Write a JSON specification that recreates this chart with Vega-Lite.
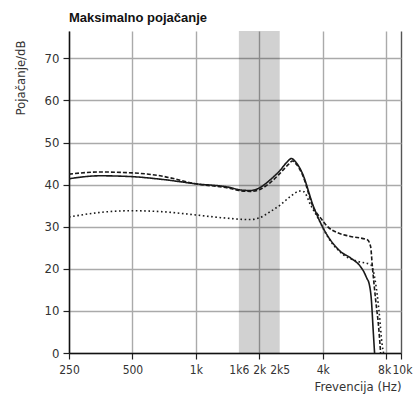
{
  "$schema": "https://vega.github.io/schema/vega-lite/v6.json",
  "width": 332,
  "height": 322,
  "autosize": "none",
  "padding": {"left": 69, "top": 31, "right": 12, "bottom": 49},
  "background": "white",
  "title": {
    "text": "Maksimalno pojačanje",
    "anchor": "start",
    "frame": "group",
    "font": "Liberation Sans",
    "fontWeight": "bold",
    "fontSize": 13,
    "color": "#111",
    "offset": 6
  },
  "config": {
    "view": {"stroke": null},
    "axis": {
      "labelFont": "DejaVu Sans Condensed, Liberation Sans Narrow, Roboto",
      "titleFont": "DejaVu Sans Condensed, Liberation Sans Narrow, Roboto",
      "labelFontSize": 13,
      "titleFontSize": 13,
      "titleFontWeight": "normal",
      "labelColor": "#333",
      "titleColor": "#333"
    }
  },
  "layer": [
    {
      "data": {"values": [{"lo": 1600, "hi": 2500}]},
      "mark": {"type": "rect", "color": "#000", "opacity": 0.18},
      "encoding": {
        "x": {"field": "lo", "type": "quantitative", "scale": {"type": "log", "domain": [250, 9410]}},
        "x2": {"field": "hi"},
        "y": {"datum": 0, "type": "quantitative", "scale": {"domain": [0, 76.5]}},
        "y2": {"datum": 76.5}
      }
    },
    {
      "data": {"values": [
        {"s": "A", "f": 250, "g": 41.4},
        {"s": "A", "f": 351, "g": 42.1},
        {"s": "A", "f": 498, "g": 41.9},
        {"s": "A", "f": 677, "g": 41.3},
        {"s": "A", "f": 1000, "g": 40.2},
        {"s": "A", "f": 1457, "g": 39.3},
        {"s": "A", "f": 1600, "g": 38.8},
        {"s": "A", "f": 1814, "g": 38.6},
        {"s": "A", "f": 2000, "g": 39.2},
        {"s": "A", "f": 2258, "g": 41.2},
        {"s": "A", "f": 2520, "g": 43.5},
        {"s": "A", "f": 2700, "g": 45.3},
        {"s": "A", "f": 2842, "g": 46.2},
        {"s": "A", "f": 2950, "g": 45.6},
        {"s": "A", "f": 3196, "g": 42.8},
        {"s": "A", "f": 3617, "g": 34.8},
        {"s": "A", "f": 4000, "g": 29.9},
        {"s": "A", "f": 4860, "g": 24.1},
        {"s": "A", "f": 5420, "g": 22.6},
        {"s": "A", "f": 6050, "g": 20.5},
        {"s": "A", "f": 6255, "g": 19.4},
        {"s": "A", "f": 6500, "g": 17.6},
        {"s": "A", "f": 6625, "g": 16.7},
        {"s": "A", "f": 6805, "g": 12.7},
        {"s": "A", "f": 6955, "g": 4.8},
        {"s": "A", "f": 7050, "g": 0},
        {"s": "B", "f": 250, "g": 42.5},
        {"s": "B", "f": 351, "g": 43.0},
        {"s": "B", "f": 498, "g": 42.8},
        {"s": "B", "f": 677, "g": 42.1},
        {"s": "B", "f": 1000, "g": 40.2},
        {"s": "B", "f": 1457, "g": 39.1},
        {"s": "B", "f": 1600, "g": 38.6},
        {"s": "B", "f": 1814, "g": 38.4},
        {"s": "B", "f": 2000, "g": 38.8},
        {"s": "B", "f": 2258, "g": 40.5},
        {"s": "B", "f": 2520, "g": 42.8},
        {"s": "B", "f": 2750, "g": 44.8},
        {"s": "B", "f": 2874, "g": 45.6},
        {"s": "B", "f": 2980, "g": 45.0},
        {"s": "B", "f": 3196, "g": 42.5},
        {"s": "B", "f": 3617, "g": 34.5},
        {"s": "B", "f": 3905, "g": 32.1},
        {"s": "B", "f": 4200, "g": 30.1},
        {"s": "B", "f": 4690, "g": 28.6},
        {"s": "B", "f": 5420, "g": 27.7},
        {"s": "B", "f": 6512, "g": 26.9},
        {"s": "B", "f": 6750, "g": 25.3},
        {"s": "B", "f": 6880, "g": 20.6},
        {"s": "B", "f": 7130, "g": 12.7},
        {"s": "B", "f": 7390, "g": 5.5},
        {"s": "B", "f": 7530, "g": 0},
        {"s": "C", "f": 250, "g": 32.3},
        {"s": "C", "f": 351, "g": 33.4},
        {"s": "C", "f": 498, "g": 33.8},
        {"s": "C", "f": 677, "g": 33.6},
        {"s": "C", "f": 1000, "g": 32.8},
        {"s": "C", "f": 1350, "g": 32.1},
        {"s": "C", "f": 1814, "g": 31.7},
        {"s": "C", "f": 2000, "g": 32.1},
        {"s": "C", "f": 2258, "g": 33.6},
        {"s": "C", "f": 2520, "g": 35.2},
        {"s": "C", "f": 2811, "g": 37.2},
        {"s": "C", "f": 3136, "g": 38.5},
        {"s": "C", "f": 3260, "g": 38.3},
        {"s": "C", "f": 3500, "g": 35.2},
        {"s": "C", "f": 3833, "g": 31.7},
        {"s": "C", "f": 4125, "g": 28.5},
        {"s": "C", "f": 5025, "g": 23.3},
        {"s": "C", "f": 5837, "g": 21.8},
        {"s": "C", "f": 6750, "g": 21.0},
        {"s": "C", "f": 7130, "g": 16.6},
        {"s": "C", "f": 7390, "g": 10.3},
        {"s": "C", "f": 7675, "g": 1.6},
        {"s": "C", "f": 7780, "g": 0}
      ]},
      "mark": {"type": "line", "strokeWidth": 1.6, "interpolate": "monotone", "clip": true},
      "encoding": {
        "x": {
          "field": "f",
          "type": "quantitative",
          "scale": {"type": "log", "domain": [250, 9410]},
          "axis": {
            "title": "Frevencija (Hz)",
            "titleAnchor": "end",
            "titleAlign": "right",
            "titlePadding": 5,
            "values": [250, 500, 1000, 1600, 2000, 2500, 4000, 8000, 9410],
            "labelExpr": "datum.value == 1600 ? '1k6' : datum.value == 2500 ? '2k5' : datum.value > 9000 ? '10k' : datum.value >= 1000 ? (datum.value / 1000) + 'k' : '' + datum.value",
            "labelOverlap": false,
            "labelFlush": false,
            "labelFontSize": 12,
            "labelOffset": {"condition": [{"test": "datum.value > 9000", "value": 1}, {"test": "datum.value == 8000", "value": -2}], "value": 0},
            "labelPadding": 5,
            "tickSize": 6,
            "tickColor": "#222",
            "tickWidth": 1.2,
            "tickOpacity": {"condition": {"test": "datum.value == 1600 || datum.value == 2500", "value": 0}, "value": 1},
            "domainColor": "#111",
            "domainWidth": 1.5,
            "grid": true,
            "gridColor": {"condition": {"test": "datum.value > 9000", "value": "#555"}, "value": "#aaa"},
            "gridWidth": 1.4,
            "gridOpacity": {"condition": {"test": "datum.value == 1600 || datum.value == 2500", "value": 0}, "value": 1}
          }
        },
        "y": {
          "field": "g",
          "type": "quantitative",
          "scale": {"domain": [0, 76.5]},
          "axis": {
            "title": "Pojačanje/dB",
            "titleX": -49,
            "titleY": 9,
            "titleAngle": 270,
            "titleAlign": "right",
            "titleBaseline": "middle",
            "values": [0, 10, 20, 30, 40, 50, 60, 70],
            "labelPadding": 4,
            "tickSize": 6,
            "tickColor": "#222",
            "tickWidth": 1.2,
            "domainColor": "#111",
            "domainWidth": 1.5,
            "grid": true,
            "gridColor": "#aaa",
            "gridWidth": 1.4
          }
        },
        "color": {"field": "s", "type": "nominal", "scale": {"range": ["#1a1a1a", "#1a1a1a", "#1a1a1a"]}, "legend": null},
        "strokeDash": {"field": "s", "type": "nominal", "scale": {"domain": ["A", "B", "C"], "range": [[1, 0], [4, 2], [1.6, 2.6]]}, "legend": null}
      }
    }
  ]
}
